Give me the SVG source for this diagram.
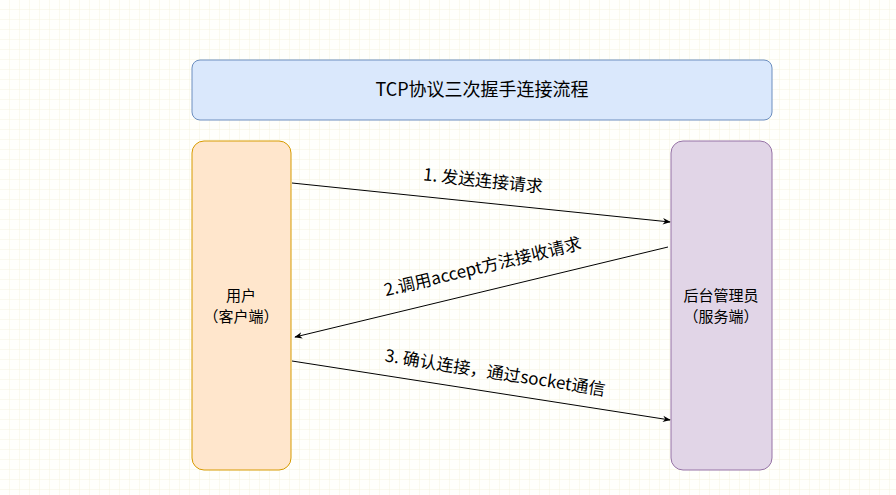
<svg xmlns="http://www.w3.org/2000/svg" width="896" height="495" viewBox="0 0 896 495">
<style>
text{font-family:"Comic Sans MS","Noto Sans CJK SC",sans-serif;fill:#000;text-anchor:middle;dominant-baseline:middle}
.c{stroke:#000;stroke-width:1;fill:none;marker-end:url(#a)}
.l{font-size:17px}
</style>
<defs>
<pattern id="g" width="10" height="10" patternUnits="userSpaceOnUse"><path d="M10 0V10H0" fill="none" stroke="#f5f3e0" stroke-width="1"/></pattern>
<marker id="a" viewBox="0 0 10 10" refX="9" refY="5" markerWidth="8" markerHeight="8" orient="auto"><path d="M0 1L10 5L0 9L3 5Z" fill="#000"/></marker>
</defs>
<rect width="896" height="495" fill="#fffffc"/>
<rect width="896" height="495" fill="url(#g)"/>
<g id="title"><rect x="192" y="60" width="580" height="60" rx="8" fill="#dae8fc" stroke="#6c8ebf"/><text x="482" y="91" font-size="18">TCP协议三次握手连接流程</text></g>
<g id="client"><rect x="192" y="141" width="99" height="329" rx="12" fill="#ffe6cc" stroke="#d79b00"/><text x="241" y="297" font-size="15">用户</text><text x="241" y="318" font-size="15">（客户端）</text></g>
<g id="server"><rect x="671" y="141" width="101" height="329" rx="12" fill="#e1d5e7" stroke="#9673a6"/><text x="721" y="297" font-size="15">后台管理员</text><text x="721" y="318" font-size="15">（服务端）</text></g>
<g id="connectors">
<path class="c" d="M292 183L670 222"/>
<path class="c" d="M668 247L295 337"/>
<path class="c" d="M292 361L670 420"/>
<text class="l" x="483" y="182" transform="rotate(6 483 182)">1. 发送连接请求</text>
<text class="l" x="483" y="268" transform="rotate(-13.6 483 268)">2.调用accept方法接收请求</text>
<text class="l" x="495" y="374" transform="rotate(8.9 495 374)">3. 确认连接，通过socket通信</text>
</g>
</svg>
